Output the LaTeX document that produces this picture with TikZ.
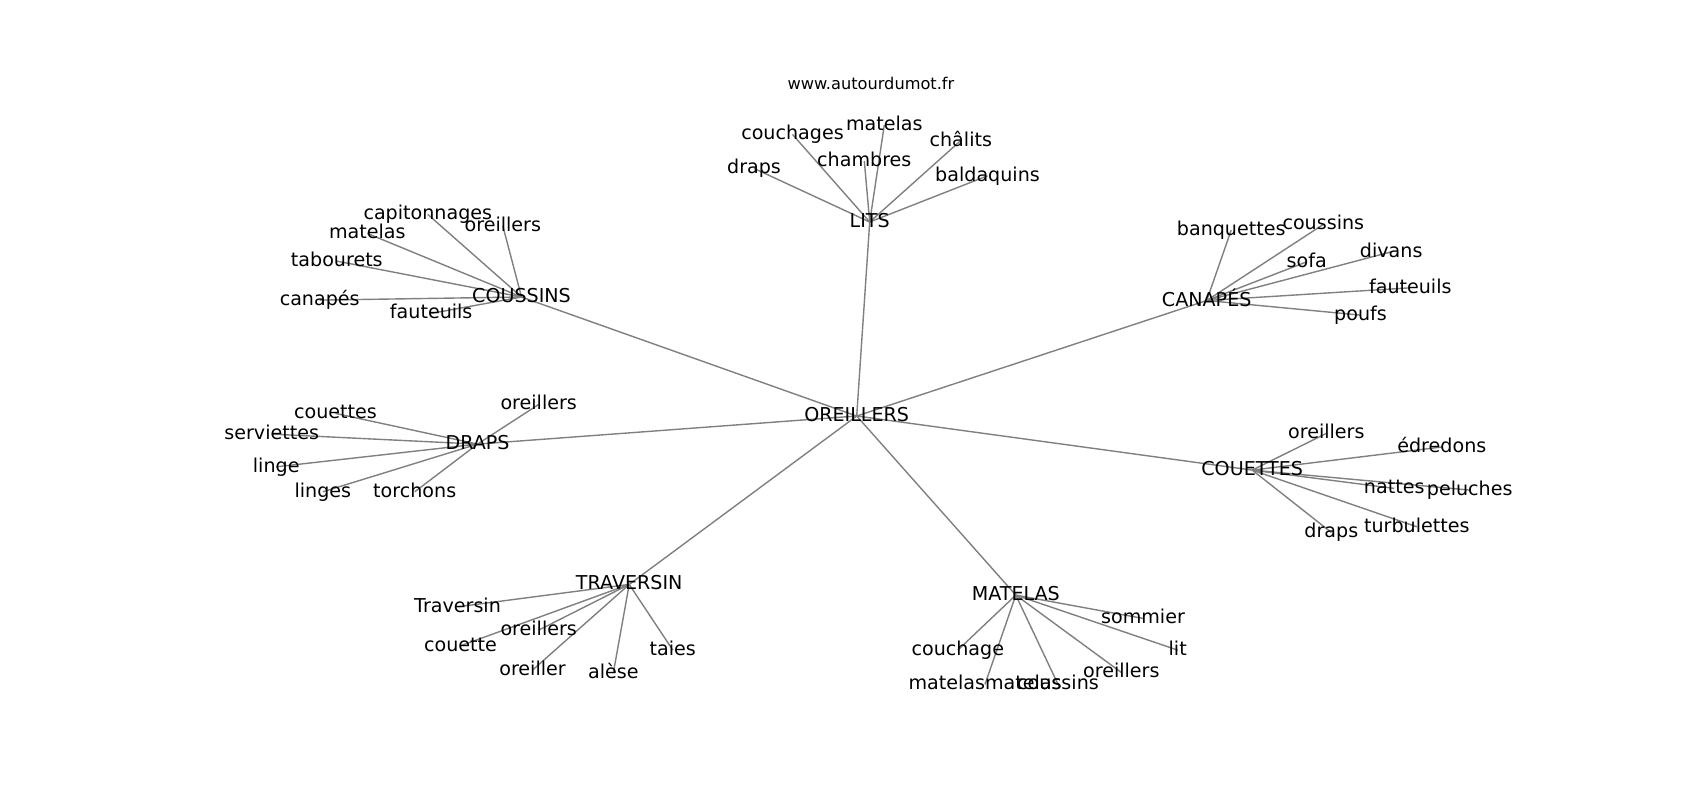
\documentclass[tikz,border=0pt]{standalone}
\usepackage{fontspec}
\setmainfont{DejaVu Sans}
\usetikzlibrary{backgrounds}
\begin{document}
\begin{tikzpicture}[x=0.5pt,y=-0.5pt,
  word/.style={inner sep=0pt, text height=0.76em, text depth=0.208em,
    font=\fontsize{9.55}{11}\selectfont, text=black},
  urltext/.style={inner sep=0pt, text height=0.76em, text depth=0.208em,
    font=\fontsize{8.1}{10}\selectfont, text=black},
  link/.style={draw=gray, line width=0.7pt}]
\useasboundingbox (0,0) rectangle (1700,800);
\node[urltext] (url) at (871,84) {www.autourdumot.fr};
% centre
\node[word] (o) at (856.7,416) {OREILLERS};
% LITS
\node[word] (lits) at (869.7,222) {LITS};
\node[word] (lits1) at (792.5,134.4) {couchages};
\node[word] (lits2) at (884.3,125) {matelas};
\node[word] (lits3) at (960.8,140.5) {châlits};
\node[word] (lits4) at (864.3,161) {chambres};
\node[word] (lits5) at (754,168.4) {draps};
\node[word] (lits6) at (987.5,175.8) {baldaquins};
% COUSSINS
\node[word] (cou) at (521.5,297) {COUSSINS};
\node[word] (cou1) at (427.8,214.4) {capitonnages};
\node[word] (cou2) at (502.8,225.8) {oreillers};
\node[word] (cou3) at (367.3,233.4) {matelas};
\node[word] (cou4) at (336.8,261.1) {tabourets};
\node[word] (cou5) at (319.7,300.1) {canapés};
\node[word] (cou6) at (431.2,313.4) {fauteuils};
% CANAPES
\node[word] (can) at (1206.7,300.5) {CANAPÉS};
\node[word] (can1) at (1231.2,230.1) {banquettes};
\node[word] (can2) at (1323.3,224.4) {coussins};
\node[word] (can3) at (1306.7,261.8) {sofa};
\node[word] (can4) at (1391.2,251.8) {divans};
\node[word] (can5) at (1410.3,287.8) {fauteuils};
\node[word] (can6) at (1360.5,315.1) {poufs};
% DRAPS
\node[word] (dra) at (477.5,444.1) {DRAPS};
\node[word] (dra1) at (538.7,404.4) {oreillers};
\node[word] (dra2) at (335.5,413.4) {couettes};
\node[word] (dra3) at (271.7,434.1) {serviettes};
\node[word] (dra4) at (276.2,466.8) {linge};
\node[word] (dra5) at (322.8,491.8) {linges};
\node[word] (dra6) at (414.7,491.8) {torchons};
% COUETTES
\node[word] (cot) at (1252.2,470.1) {COUETTES};
\node[word] (cot1) at (1326.3,433.4) {oreillers};
\node[word] (cot2) at (1441.8,447) {édredons};
\node[word] (cot3) at (1394.2,488.4) {nattes};
\node[word] (cot4) at (1469.7,490.1) {peluches};
\node[word] (cot5) at (1331.3,532.4) {draps};
\node[word] (cot6) at (1416.8,526.8) {turbulettes};
% TRAVERSIN
\node[word] (tra) at (629.2,584.4) {TRAVERSIN};
\node[word] (tra1) at (457.5,606.8) {Traversin};
\node[word] (tra2) at (538.7,630.1) {oreillers};
\node[word] (tra3) at (460.5,645.8) {couette};
\node[word] (tra4) at (672.8,650.1) {taies};
\node[word] (tra5) at (532.5,670.1) {oreiller};
\node[word] (tra6) at (613.3,673) {alèse};
% MATELAS
\node[word] (mat) at (1015.8,595.1) {MATELAS};
\node[word] (mat1) at (1143,618.4) {sommier};
\node[word] (mat2) at (957.8,650.1) {couchage};
\node[word] (mat3) at (1177.7,650.1) {lit};
\node[word] (mat4) at (1121.3,672.4) {oreillers};
\node[word] (mat5) at (985,684.3) {matelasmatelas};
\node[word] (mat6) at (1058,684.3) {coussins};
\begin{scope}[on background layer]
\fill[white] (0,0) rectangle (1700,800);
\foreach \h in {lits,cou,can,dra,cot,tra,mat}
  \draw[link] (o.center) -- (\h.center);
\foreach \h in {lits,cou,can,dra,cot,tra,mat}
  \foreach \k in {1,...,6}
    \draw[link] (\h.center) -- (\h\k.center);
\end{scope}
\end{tikzpicture}
\end{document}
